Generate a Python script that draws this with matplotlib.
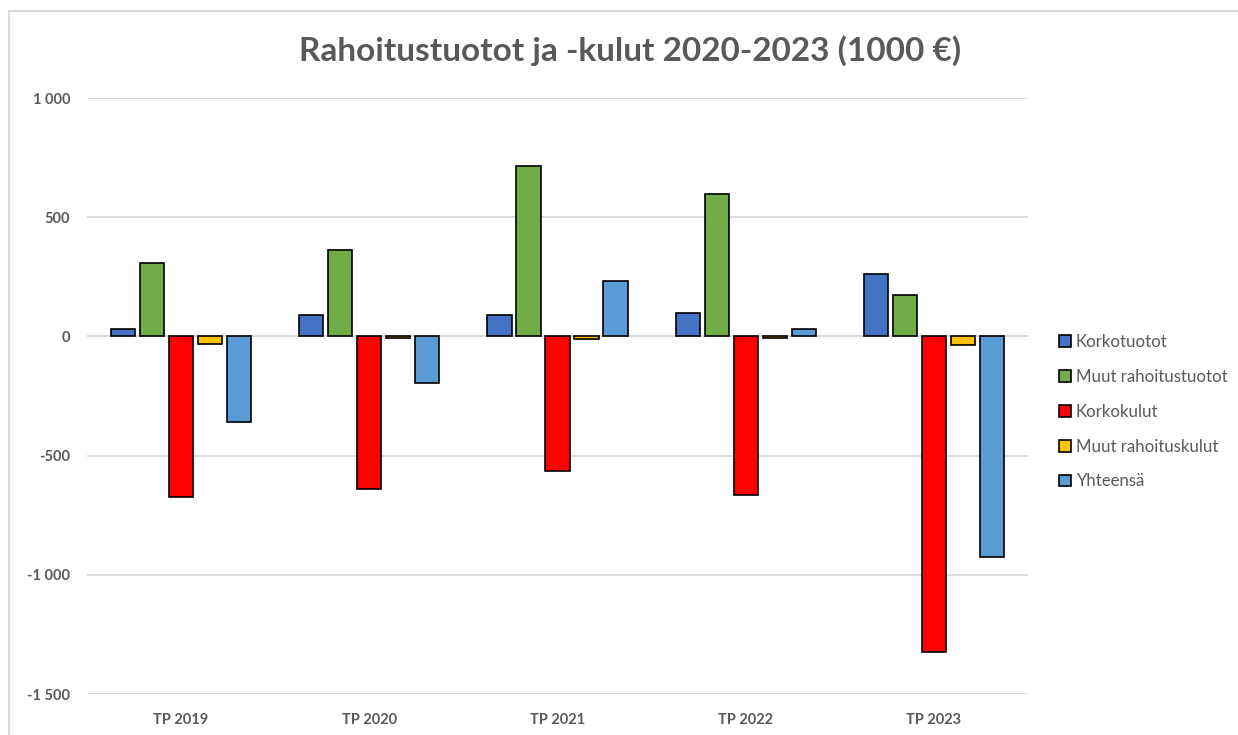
import matplotlib
matplotlib.use("Agg")
import matplotlib.pyplot as plt
from matplotlib.patches import Rectangle, Patch
from matplotlib.ticker import FuncFormatter, FixedLocator
import numpy as np

categories = ["TP 2019", "TP 2020", "TP 2021", "TP 2022", "TP 2023"]
series_names = ["Korkotuotot", "Muut rahoitustuotot", "Korkokulut", "Muut rahoituskulut", "Yhteensä"]
korkotuotot = [30, 90, 90, 97, 260]
muut_tuotot = [307, 362, 714, 596, 172]
korkokulut = [-673, -640, -566, -667, -1325]
muut_kulut = [-30, -5, -10, -5, -36]
yhteensa = [-358, -196, 231, 30, -927]
colors = ["#4472C4", "#70AD47", "#FF0000", "#FFC000", "#5B9BD5"]
yticks = [-1500, -1000, -500, 0, 500, 1000]

series = [korkotuotot, muut_tuotot, korkokulut, muut_kulut, yhteensa]

plt.rcParams['font.family'] = ['Lato', 'DejaVu Sans']
W, H = 1238, 735
fig = plt.figure(figsize=(W/100, H/100), dpi=100)
fig.patches.append(Rectangle((9/W, -0.2), 1.2, 1.2 - 11/H, transform=fig.transFigure,
                             fill=False, edgecolor="#d9d9d9", linewidth=1.5))
ax = fig.add_axes([87/W, 1 - 694/H, (1028-87)/W, (694-98)/H])

x = np.arange(len(categories))
width = 0.128
step = 0.154
for i, (vals, c) in enumerate(zip(series, colors)):
    ax.bar(x + (i - 2) * step, vals, width, color=c, edgecolor="black", linewidth=1.2,
           label=series_names[i], zorder=3)

ax.set_xlim(-0.5, len(categories) - 0.5)
ax.set_ylim(-1500, 1000)
ax.yaxis.set_major_locator(FixedLocator(yticks))
ax.yaxis.set_major_formatter(FuncFormatter(lambda v, p: f"{int(v):,}".replace(",", " ")))
ax.grid(axis="y", color="#d9d9d9", linewidth=1.3, zorder=0)
ax.axhline(0, color="#d9d9d9", linewidth=1.5, zorder=1)
for s in ax.spines.values():
    s.set_visible(False)
ax.set_xticks(x)
ax.set_xticklabels(categories)
ax.tick_params(axis="both", length=0, colors="#595959", labelsize=10.5)
for lab in ax.get_xticklabels() + ax.get_yticklabels():
    lab.set_fontweight("bold")
ax.tick_params(axis="x", pad=14)
ax.tick_params(axis="y", pad=12)

fig.text(630/W, 1 - 51/H, "Rahoitustuotot ja -kulut 2020-2023 (1000 €)", ha="center", va="center",
         fontsize=24, fontweight="bold", color="#595959")

handles = [Patch(facecolor=c, edgecolor="black", linewidth=1.2) for c in colors]
leg = fig.legend(handles, series_names, loc="upper left", bbox_to_anchor=(1044/W, 1 - 319/H),
                 frameon=False, handlelength=0.7, handleheight=0.7, handletextpad=0.3,
                 labelspacing=1.12, fontsize=12.1, labelcolor="#595959")

fig.savefig("out.png", dpi=100)
